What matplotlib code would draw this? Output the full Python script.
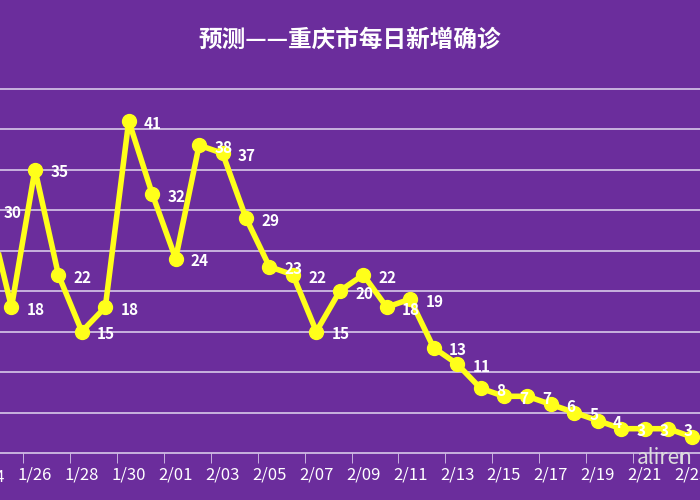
import matplotlib.pyplot as plt
import numpy as np

plt.rcParams['font.family'] = ['Noto Sans CJK SC', 'DejaVu Sans']

dates = ['1/24', '1/25', '1/26', '1/27', '1/28', '1/29', '1/30', '1/31',
         '2/01', '2/02', '2/03', '2/04', '2/05', '2/06', '2/07', '2/08',
         '2/09', '2/10', '2/11', '2/12', '2/13', '2/14', '2/15', '2/16',
         '2/17', '2/18', '2/19', '2/20', '2/21', '2/22', '2/23']
cases = [30, 18, 35, 22, 15, 18, 41, 32, 24, 38, 37, 29, 23, 22, 15, 20,
         22, 18, 19, 13, 11, 8, 7, 7, 6, 5, 4, 3, 3, 3, 2]
labels = [str(v) for v in cases]

bg = '#6b2d9c'
fig = plt.figure(figsize=(7, 5), dpi=100, facecolor=bg)
ax = fig.add_axes([0, 0.094, 1, 0.81], facecolor=bg)

x = np.arange(len(dates))
ax.plot(x, cases, color='#ffff1a', lw=4, marker='o', ms=10, zorder=3)
for xi, v, t in zip(x, cases, labels):
    ax.annotate(t, (xi, v), xytext=(11, -2), textcoords='offset points',
                color='white', fontsize=11, fontweight='bold', va='center',
                zorder=4, annotation_clip=False)

ax.set_yticks(np.arange(5, 50, 5))
ax.yaxis.grid(True, color='#d8c8ea', lw=1.2)
ax.tick_params(axis='y', left=False, labelleft=False)
ax.set_xticks(x[::2])
ax.set_xticklabels(dates[::2], color='white', fontsize=12)
ax.set_xticks(np.arange(1.5, 31, 2), minor=True)
ax.tick_params(axis='x', which='major', length=0, pad=10)
ax.tick_params(axis='x', which='minor', length=7, color='#d8c8ea')
ax.set_xlim(0.51, 30.36)
ax.set_ylim(0, 50)
# first date label sits partly outside the view
ax.text(x[0], -0.06, dates[0], transform=ax.get_xaxis_transform(), color='white',
        fontsize=12, ha='center', va='center', clip_on=False)
for s in ['top', 'right', 'left']:
    ax.spines[s].set_visible(False)
ax.spines['bottom'].set_color('#d8c8ea')
ax.spines['bottom'].set_linewidth(1.2)

fig.text(0.5, 0.92, '预测——重庆市每日新增确诊', color='white', fontsize=17,
         fontweight='bold', ha='center', va='center')
fig.text(0.91, 0.085, 'aliren', color='#dddddd', fontsize=15, va='center')

fig.savefig('out.png', dpi=100, facecolor=bg)
